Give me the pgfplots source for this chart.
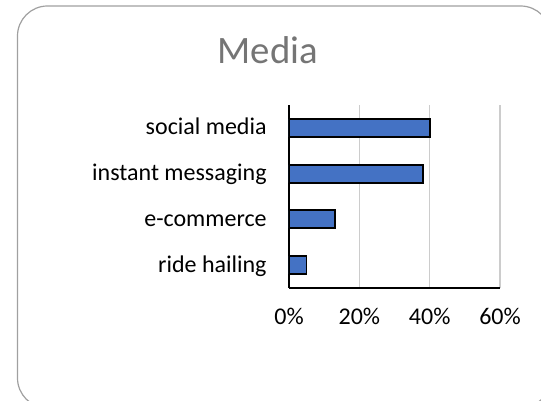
\documentclass[border=0pt]{standalone}
\usepackage{fontspec}
\setmainfont{Carlito}
\usepackage{pgfplots}
\pgfplotsset{compat=1.18}

\definecolor{barblue}{HTML}{4472C4}
\definecolor{framegray}{HTML}{A0A0A0}
\definecolor{gridgray}{HTML}{CCCCCC}
\definecolor{titlegray}{HTML}{757575}

\begin{document}
\begin{tikzpicture}
% 1 px of the reference = 0.5pt
\path[use as bounding box] (0,0) rectangle (270.5pt,200.5pt);
\begin{scope}
\clip (0,0) rectangle (270.5pt,200.5pt);
\draw[framegray, line width=0.6pt, rounded corners=15pt]
  (8.75pt,-3.5pt) rectangle (275.3pt,197.5pt);
\end{scope}
\node[titlegray, font=\fontsize{19.4}{23}\selectfont, anchor=base, inner sep=0]
  at (134pt,168.5pt) {Media};
\begin{axis}[
    at={(144.5pt,56.5pt)}, anchor=south west,
    scale only axis,
    width=105.5pt, height=91.5pt,
    xbar, bar width=9pt,
    xmin=0, xmax=60,
    ymin=-0.5, ymax=3.5,
    xtick={0,20,40,60},
    xticklabels={0\%,20\%,40\%,60\%},
    ytick={0,1,2,3},
    yticklabels={ride hailing,e-commerce,instant messaging,social media},
    axis x line=bottom, axis y line=left,
    axis line style={black, line width=0.6pt, -},
    major tick length=0pt,
    xmajorgrids,
    grid style={gridgray, line width=0.75pt},
    ticklabel style={font=\fontsize{12}{14}\selectfont, black, inner sep=0pt},
    xticklabel style={anchor=base, yshift=-18.5pt},
    yticklabel style={anchor=base east, xshift=-11pt, yshift=-3.5pt},
    /pgf/number format/assume math mode=true,
]
\addplot[fill=barblue, draw=black, line width=0.9pt]
    coordinates {(5,0) (13,1) (38,2) (40,3)};
\end{axis}
\end{tikzpicture}
\end{document}
